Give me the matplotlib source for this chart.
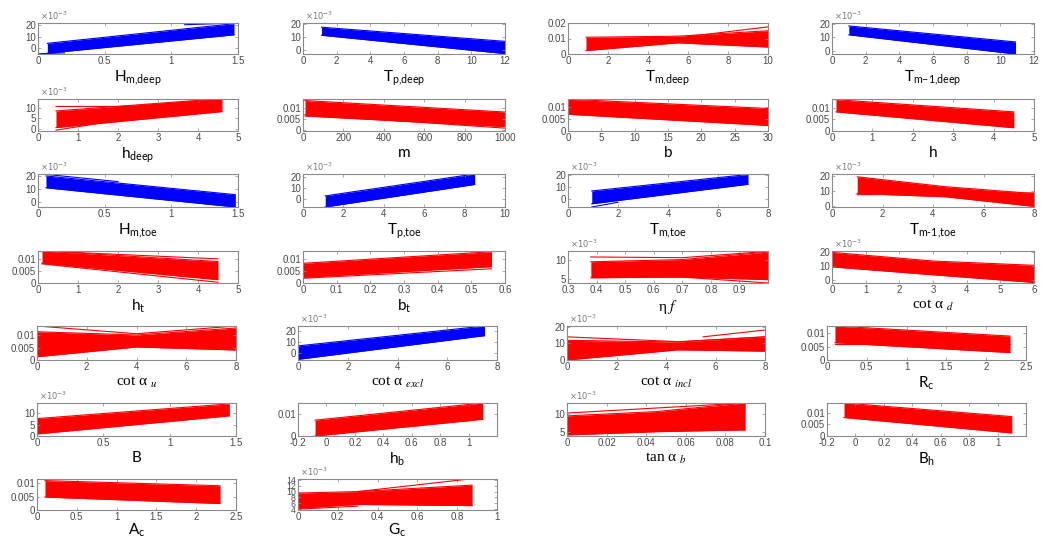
import matplotlib
matplotlib.use("Agg")
import matplotlib.pyplot as plt

plt.rcParams["mathtext.fontset"] = "custom"
plt.rcParams["mathtext.rm"] = "Lato"
plt.rcParams["mathtext.it"] = "Lato:italic"
plt.rcParams["mathtext.bf"] = "Lato:bold"

W, H = 1051, 540

# ---------------- data (y values in units of 1e-3) ----------------
labels = [
    r"H$_{\text{m,deep}}$", r"T$_{\text{p,deep}}$", r"T$_{\text{m,deep}}$", r"T$_{\text{m−1,deep}}$",
    r"h$_{\text{deep}}$", "m", "b", "h",
    r"H$_{\text{m,toe}}$", r"T$_{\text{p,toe}}$", r"T$_{\text{m,toe}}$", r"T$_{\text{m-1,toe}}$",
    r"h$_{\text{t}}$", r"b$_{\text{t}}$", "η $\\mathit{f}$", "cot α $_{\\mathit{d}}$",
    "cot α $_{\\mathit{u}}$", "cot α $_{\\mathit{excl}}$", "cot α $_{\\mathit{incl}}$", r"R$_{\text{c}}$",
    "B", r"h$_{\text{b}}$", "tan α $_{\\mathit{b}}$", r"B$_{\text{h}}$",
    r"A$_{\text{c}}$", r"G$_{\text{c}}$",
]
serif_label = [False]*14 + [True, True, True, True, True, False, False, False, True, False, False, False]
colors = ["b", "b", "r", "b",
          "r", "r", "r", "r",
          "b", "b", "b", "r",
          "r", "r", "r", "r",
          "r", "b", "r", "r",
          "r", "r", "r", "r",
          "r", "r"]

xlims = [(0, 1.5), (0, 12), (0, 10), (0, 12),
         (0, 5), (0, 1000), (0, 30), (0, 5),
         (0, 1.5), (0, 10), (0, 8), (0, 8),
         (0, 5), (0, 0.6), (0.3, 1.0), (0, 6),
         (0, 8), (0, 8), (0, 8), (0, 2.5),
         (0, 1.5), (-0.2, 1.2), (0, 0.1), (-0.2, 1.2),
         (0, 2.5), (0, 1)]
xticks = [[0, 0.5, 1, 1.5], [0, 2, 4, 6, 8, 10, 12], [0, 2, 4, 6, 8, 10], [0, 2, 4, 6, 8, 10, 12],
          [0, 1, 2, 3, 4, 5], [0, 200, 400, 600, 800, 1000], [0, 5, 10, 15, 20, 25, 30], [0, 1, 2, 3, 4, 5],
          [0, 0.5, 1, 1.5], [0, 2, 4, 6, 8, 10], [0, 2, 4, 6, 8], [0, 2, 4, 6, 8],
          [0, 1, 2, 3, 4, 5], [0, 0.1, 0.2, 0.3, 0.4, 0.5, 0.6], [0.3, 0.4, 0.5, 0.6, 0.7, 0.8, 0.9], [0, 1, 2, 3, 4, 5, 6],
          [0, 2, 4, 6, 8], [0, 2, 4, 6, 8], [0, 2, 4, 6, 8], [0, 0.5, 1, 1.5, 2, 2.5],
          [0, 0.5, 1, 1.5], [-0.2, 0, 0.2, 0.4, 0.6, 0.8, 1], [0, 0.02, 0.04, 0.06, 0.08, 0.1], [-0.2, 0, 0.2, 0.4, 0.6, 0.8, 1],
          [0, 0.5, 1, 1.5, 2, 2.5], [0, 0.2, 0.4, 0.6, 0.8, 1]]

ylims = [(-5, 22), (-3, 20.5), (0, 20), (-2.6, 20.5),
         (-1, 14), (-0.3, 14.2), (0, 13.2), (0, 13.7),
         (-3.8, 21.3), (-7, 23), (-7, 21), (-0.9, 21.4),
         (0, 13.4), (0, 13.5), (3.9, 12.5), (-2.3, 20.7),
         (0, 13.6), (-6.8, 24.6), (0, 20.4), (0, 12.8),
         (0, 14.4), (0, 15.2), (3.8, 13), (0, 14.1),
         (0, 11.5), (3.7, 14.3)]
scaled = [True, True, False, True,
          True, False, False, False,
          True, True, True, True,
          False, False, True, True,
          False, True, True, False,
          True, False, True, False,
          False, True]
SMALL = [0, 5, 10]
yticks = [[0, 10, 20], [0, 10, 20], [0, 10, 20], [0, 10, 20],
          [0, 5, 10], SMALL, SMALL, SMALL,
          [0, 10, 20], [0, 10, 20], [0, 10, 20], [0, 10, 20],
          SMALL, SMALL, [5, 10], [0, 10, 20],
          SMALL, [0, 10, 20], [0, 10, 20], SMALL,
          [0, 5, 10], [0, 10], [5, 10], SMALL,
          SMALL, [4, 6, 8, 10, 12, 14]]

# band of curves: x positions, lower and upper envelope (1e-3)
band_x = [[0.07, 1.47], [1.1, 12], [0.9, 5.5, 10], [1.0, 10.9],
          [0.45, 4.6], [10, 1000], [0, 30], [0.1, 4.5],
          [0.06, 1.48], [1.1, 8.5], [0.95, 7.2], [1.0, 4.5, 8.0],
          [0.1, 4.5], [0, 0.56], [0.38, 0.7, 1.0], [0, 3, 6],
          [0, 4, 8], [0, 7.5], [0, 4.5, 8], [0.1, 2.3],
          [0, 1.45], [-0.08, 1.1], [0, 0.045, 0.09], [-0.08, 1.1],
          [0.1, 2.3], [0, 0.3, 0.875]]
band_lo = [[-4.3, 11.7], [11.2, -2.7], [2.2, 7.2, 4.5], [11.7, -2.6],
           [0.6, 8.1], [6.5, 1.7], [6.9, 2.3], [8.2, 1.4],
           [10.8, -3.8], [-7, 13.5], [-4.3, 12.3], [8.2, 6.0, -0.5],
           [8.3, 1.4], [2.4, 6.9], [5.3, 5.5, 4.8], [9.3, 3.6, -1.9],
           [1.3, 5.2, 4.0], [-6.2, 15.7], [0, 6.1, 5.3], [6.5, 2.8],
           [0.9, 8.8], [0, 7.7], [4.1, 5.0, 5.5], [7.9, 1.3],
           [4.8, 2.4], [4.3, 5.6, 5.2]]
band_hi = [[4.3, 21.4], [17.3, 6.6], [10.8, 11.5, 15.0], [18.3, 6.4],
           [8.4, 14.2], [13.5, 8.3], [13.1, 9.3], [13.4, 8.2],
           [19.8, 5.6], [3.1, 23.0], [6.6, 20.6], [19.5, 12.8, 8.2],
           [13.4, 9.0], [8.3, 13.2], [9.6, 10.2, 12.2], [19.7, 13.5, 10.4],
           [11.3, 10.0, 12.8], [6.2, 24.6], [11.8, 10.8, 13.9], [12.8, 9.0],
           [7.6, 14.0], [7.3, 15.2], [9.4, 10.6, 13.0], [14.1, 8.3],
           [10.9, 9.0], [9.5, 10.0, 12.2]]

# individual outlying curves: (panel, xs, ys)
extra_lines = [
    (0, [1.1, 1.5], [20.5, 22.0]),
    (0, [0.0, 0.2], [-4.8, -4.0]),
    (2, [6.0, 10.0], [11.3, 17.5]),
    (4, [0.45, 2.3, 4.6], [10.5, 10.5, 13.8]),
    (4, [0.45, 1.5], [-0.6, 2.5]),
    (5, [10, 1000], [7.2, 1.0]),
    (8, [0.06, 0.6], [21.0, 15.5]),
    (10, [0.95, 2.0], [-7.0, -3.0]),
    (11, [1.0, 8.0], [7.4, 8.6]),
    (12, [0.1, 4.5], [13.4, 10.1]),
    (12, [0.1, 4.5], [8.0, 0.3]),
    (13, [0, 0.56], [2.0, 6.0]),
    (14, [0.38, 0.7, 1.0], [10.9, 10.7, 12.4]),
    (14, [0.6, 1.0], [6.0, 3.9]),
    (16, [0, 4, 8], [13.6, 10.5, 13.6]),
    (18, [0, 4.5, 8], [13.9, 11.0, 13.9]),
    (18, [5.5, 8], [13.9, 18.0]),
    (19, [0.1, 2.3], [5.9, 5.9]),
    (22, [0, 0.09], [10.2, 13.0]),
    (25, [0.3, 0.875], [10.0, 14.4]),
    (25, [0, 0.3], [4.0, 5.0]),
]

# ---------------- layout (pixels) ----------------
row_tb = [(23, 54), (99, 131), (174, 207), (251, 283), (326, 360), (403, 436), (479, 510)]
cols_upper = [(38, 238), (303, 505), (568, 768), (832, 1034)]
cols_lower = [(37, 236), (298, 497), (567, 765), (827, 1026)]

fig = plt.figure(figsize=(W / 100, H / 100), dpi=100)
fig.patch.set_facecolor("white")

AX_COL = "#8a8a8a"
TXT_COL = "#4a4a4a"

for i in range(26):
    r, c = divmod(i, 4)
    top, bot = row_tb[r]
    left, right = (cols_upper if r < 4 else cols_lower)[c]
    ax = fig.add_axes([left / W, 1 - bot / H, (right - left) / W, (bot - top) / H])
    col = colors[i]
    xs = band_x[i]
    lo = [v * 1e-3 for v in band_lo[i]]
    hi = [v * 1e-3 for v in band_hi[i]]
    ax.fill_between(xs, lo, hi, color=col, lw=0)
    ax.plot(xs, lo, color=col, lw=0.8)
    ax.plot(xs, hi, color=col, lw=0.8)
    for (p, ex, ey) in extra_lines:
        if p == i:
            ax.plot(ex, [v * 1e-3 for v in ey], color=col, lw=0.8)
    ax.set_xlim(*xlims[i])
    ax.set_ylim(ylims[i][0] * 1e-3, ylims[i][1] * 1e-3)
    ax.set_xticks(xticks[i])
    ax.set_xticklabels([("%g" % t) for t in xticks[i]])
    yt = [t * 1e-3 for t in yticks[i]]
    ax.set_yticks(yt)
    ysize = 6.3 if len(yticks[i]) > 4 else 7
    if scaled[i]:
        ax.set_yticklabels([str(t) for t in yticks[i]])
        ax.text(0.01, 1.02, r"$\times10^{-3}$", transform=ax.transAxes,
                fontsize=6, color="#777777", ha="left", va="bottom",
                family="Liberation Sans", math_fontfamily="dejavusans")
    else:
        ax.set_yticklabels([("%g" % (t)) for t in yt])
    ax.tick_params(direction="in", length=2, width=0.5, colors=AX_COL,
                   labelcolor=TXT_COL, labelsize=7, pad=1.5,
                   top=True, right=True)
    ax.tick_params(axis="y", labelsize=ysize)
    for lab in ax.get_xticklabels() + ax.get_yticklabels():
        lab.set_family("Liberation Sans")
    for s in ax.spines.values():
        s.set_color(AX_COL)
        s.set_linewidth(0.8)
    lp = 0 if r == 6 else 2
    if serif_label[i]:
        ax.set_xlabel(labels[i], fontsize=11, family="Liberation Serif",
                      math_fontfamily="stix", labelpad=lp, color="black")
    else:
        ax.set_xlabel(labels[i], fontsize=11, family=["Lato", "DejaVu Sans"],
                      labelpad=lp, color="black")

fig.savefig("out.png", dpi=100, facecolor="white")
